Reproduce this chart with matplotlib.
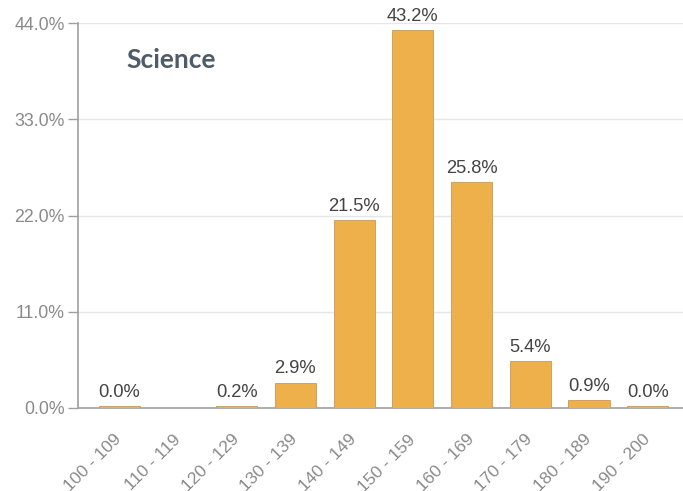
import numpy as np
import matplotlib
matplotlib.use("Agg")
import matplotlib.pyplot as plt

# score bands and share of students (percent)
bands = ["100 - 109", "110 - 119", "120 - 129", "130 - 139", "140 - 149",
         "150 - 159", "160 - 169", "170 - 179", "180 - 189", "190 - 200"]
share = [0.0, np.nan, 0.2, 2.9, 21.5, 43.2, 25.8, 5.4, 0.9, 0.0]
yticks = [0.0, 11.0, 22.0, 33.0, 44.0]
title = "Science"

plt.rcParams['font.family'] = ['Liberation Sans', 'DejaVu Sans']

fig = plt.figure(figsize=(6.83, 4.91), dpi=100)
ax = fig.add_axes([78/683, 83/491, 1 - 78/683, 385/491])

x = np.arange(len(bands))
vals = np.array(share, dtype=float)
# tiny bars still get a visible sliver, like the original
shown = np.where(np.isnan(vals), 0, np.maximum(vals, 0.25))
ax.bar(x, shown, width=0.7, color='#EEB04B', edgecolor='#c89a55', linewidth=0.6, zorder=3)
for i, v in enumerate(vals):
    if np.isnan(v):
        continue
    ax.text(x[i], shown[i] + 0.6, f"{v:.1f}%", ha='center', va='bottom',
            fontsize=13.2, color='#444444', zorder=4)

ax.set_xlim(-0.7, 9.6)
ax.set_ylim(0, 44)
ax.set_yticks(yticks)
ax.set_yticklabels([f"{t:.1f}%" for t in yticks], fontsize=12.8, color='#8a8a8a')
ax.tick_params(axis='y', length=7.5, width=1, color='#a0a0a0', pad=2)
ax.set_xticks(x)
ax.set_xticklabels(bands, rotation=45, ha='right', va='center',
                   rotation_mode='anchor', fontsize=12.5, color='#8a8a8a')
ax.tick_params(axis='x', length=0, pad=21)
ax.grid(axis='y', color='#e6e6e6', linewidth=1, zorder=0)
for s in ['top', 'right']:
    ax.spines[s].set_visible(False)
ax.spines['left'].set_color('#a0a0a0')
ax.spines['bottom'].set_color('#a0a0a0')
ax.spines['left'].set_linewidth(1.2)
ax.spines['bottom'].set_linewidth(1.2)

fig.text(126/683, 1 - 60/491, title, fontsize=19, fontweight='bold',
         family=['Lato', 'DejaVu Sans'], color='#4E5B68', va='center', ha='left')

fig.savefig('out.png', dpi=100)
